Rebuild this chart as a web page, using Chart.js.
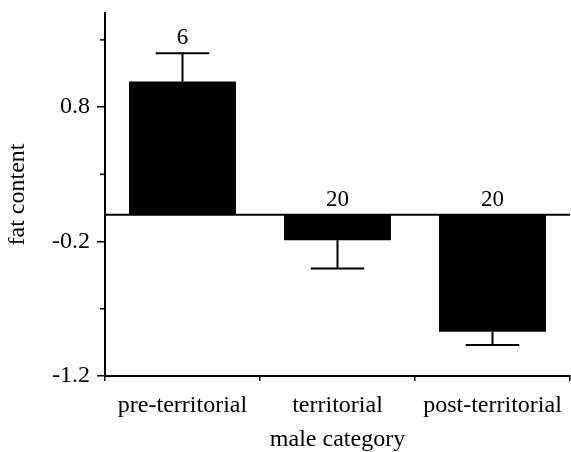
<!DOCTYPE html>
<html>
<head>
<meta charset="utf-8">
<script src="https://cdn.jsdelivr.net/npm/chart.js@4/dist/chart.umd.min.js"></script>
<style>
  html, body { margin: 0; padding: 0; background: #fff; }
  #wrap { width: 571px; height: 452px; position: relative; }
</style>
</head>
<body>
<div id="wrap"><canvas id="c"></canvas></div>
<script>
const categories = ['pre-territorial', 'territorial', 'post-territorial'];
const means = [0.99, -0.19, -0.87];
const errors = [0.21, 0.21, 0.10];
const sampleSizes = [6, 20, 20];
const majorTicks = [-1.2, -0.2, 0.8];
const minorTicks = [-0.7, 0.3, 1.3];

const FONT = '"Liberation Serif", "Times New Roman", serif';

const extrasPlugin = {
  id: 'extras',
  afterDatasetsDraw(chart) {
    const ctx = chart.ctx;
    const y = chart.scales.y;
    const area = chart.chartArea;
    const meta = chart.getDatasetMeta(0);
    ctx.save();
    ctx.strokeStyle = '#000';
    ctx.fillStyle = '#000';
    // zero line
    const y0 = y.getPixelForValue(0);
    ctx.lineWidth = 2;
    ctx.beginPath();
    ctx.moveTo(area.left, y0);
    ctx.lineTo(area.right, y0);
    ctx.stroke();
    // error bars (one-sided, away from zero)
    meta.data.forEach((bar, i) => {
      const v = means[i];
      const e = errors[i];
      const end = v >= 0 ? v + e : v - e;
      const cx = bar.x;
      const yv = y.getPixelForValue(v);
      const ye = y.getPixelForValue(end);
      const capHalf = bar.width * 0.25;
      ctx.lineWidth = 2;
      ctx.beginPath();
      ctx.moveTo(cx, yv);
      ctx.lineTo(cx, ye);
      ctx.moveTo(cx - capHalf, ye);
      ctx.lineTo(cx + capHalf, ye);
      ctx.stroke();
      // sample size label
      const topVal = Math.max(0, v >= 0 ? end : 0);
      const yt = y.getPixelForValue(topVal);
      ctx.font = '23px ' + FONT;
      ctx.textAlign = 'center';
      ctx.textBaseline = 'alphabetic';
      ctx.fillText(String(sampleSizes[i]), cx, yt - 9);
    });
    // minor ticks on y axis
    ctx.lineWidth = 1.5;
    minorTicks.forEach(t => {
      const py = y.getPixelForValue(t);
      ctx.beginPath();
      ctx.moveTo(area.left - 5, py);
      ctx.lineTo(area.left, py);
      ctx.stroke();
    });
    ctx.restore();
  }
};

new Chart(document.getElementById('c'), {
  type: 'bar',
  data: {
    labels: categories,
    datasets: [{
      data: means,
      backgroundColor: '#000',
      borderWidth: 0,
      barPercentage: 0.69,
      categoryPercentage: 1.0
    }]
  },
  options: {
    responsive: true,
    maintainAspectRatio: false,
    animation: false,
    devicePixelRatio: 1,
    layout: { padding: { top: 13, right: 1, left: 0, bottom: 0 } },
    plugins: {
      legend: { display: false },
      tooltip: { enabled: false }
    },
    scales: {
      x: {
        offset: true,
        border: { display: true, color: '#000', width: 2 },
        grid: {
          offset: true,
          drawOnChartArea: false,
          drawTicks: true,
          tickLength: 5,
          color: '#000',
          lineWidth: 1.5
        },
        ticks: {
          color: '#000',
          padding: 10,
          maxRotation: 0,
          autoSkip: false,
          font: { family: FONT, size: 24 }
        },
        title: {
          display: true,
          text: 'male category',
          color: '#000',
          font: { family: FONT, size: 24, lineHeight: 1 },
          padding: { top: 0, bottom: 0 }
        },
        afterFit(s) { s.height = 76; s.paddingLeft = 0; s.paddingRight = 0; }
      },
      y: {
        min: -1.2,
        max: 1.5,
        border: { display: true, color: '#000', width: 2 },
        grid: {
          drawOnChartArea: false,
          drawTicks: true,
          tickLength: 8,
          color: '#000',
          lineWidth: 1.5
        },
        afterBuildTicks(s) {
          s.ticks = majorTicks.map(v => ({ value: v }));
        },
        ticks: {
          color: '#000',
          padding: 7,
          font: { family: FONT, size: 24 },
          callback: (v) => (v > -0.05 && v < 0.05 ? '0' : Number(v).toFixed(1))
        },
        title: {
          display: true,
          text: 'fat content',
          color: '#000',
          font: { family: FONT, size: 24, lineHeight: 1.2 },
          padding: { top: 3, bottom: 0 }
        },
        afterFit(s) { s.width = 105; s.paddingTop = 0; s.paddingBottom = 0; }
      }
    }
  },
  plugins: [extrasPlugin]
});
</script>
</body>
</html>
